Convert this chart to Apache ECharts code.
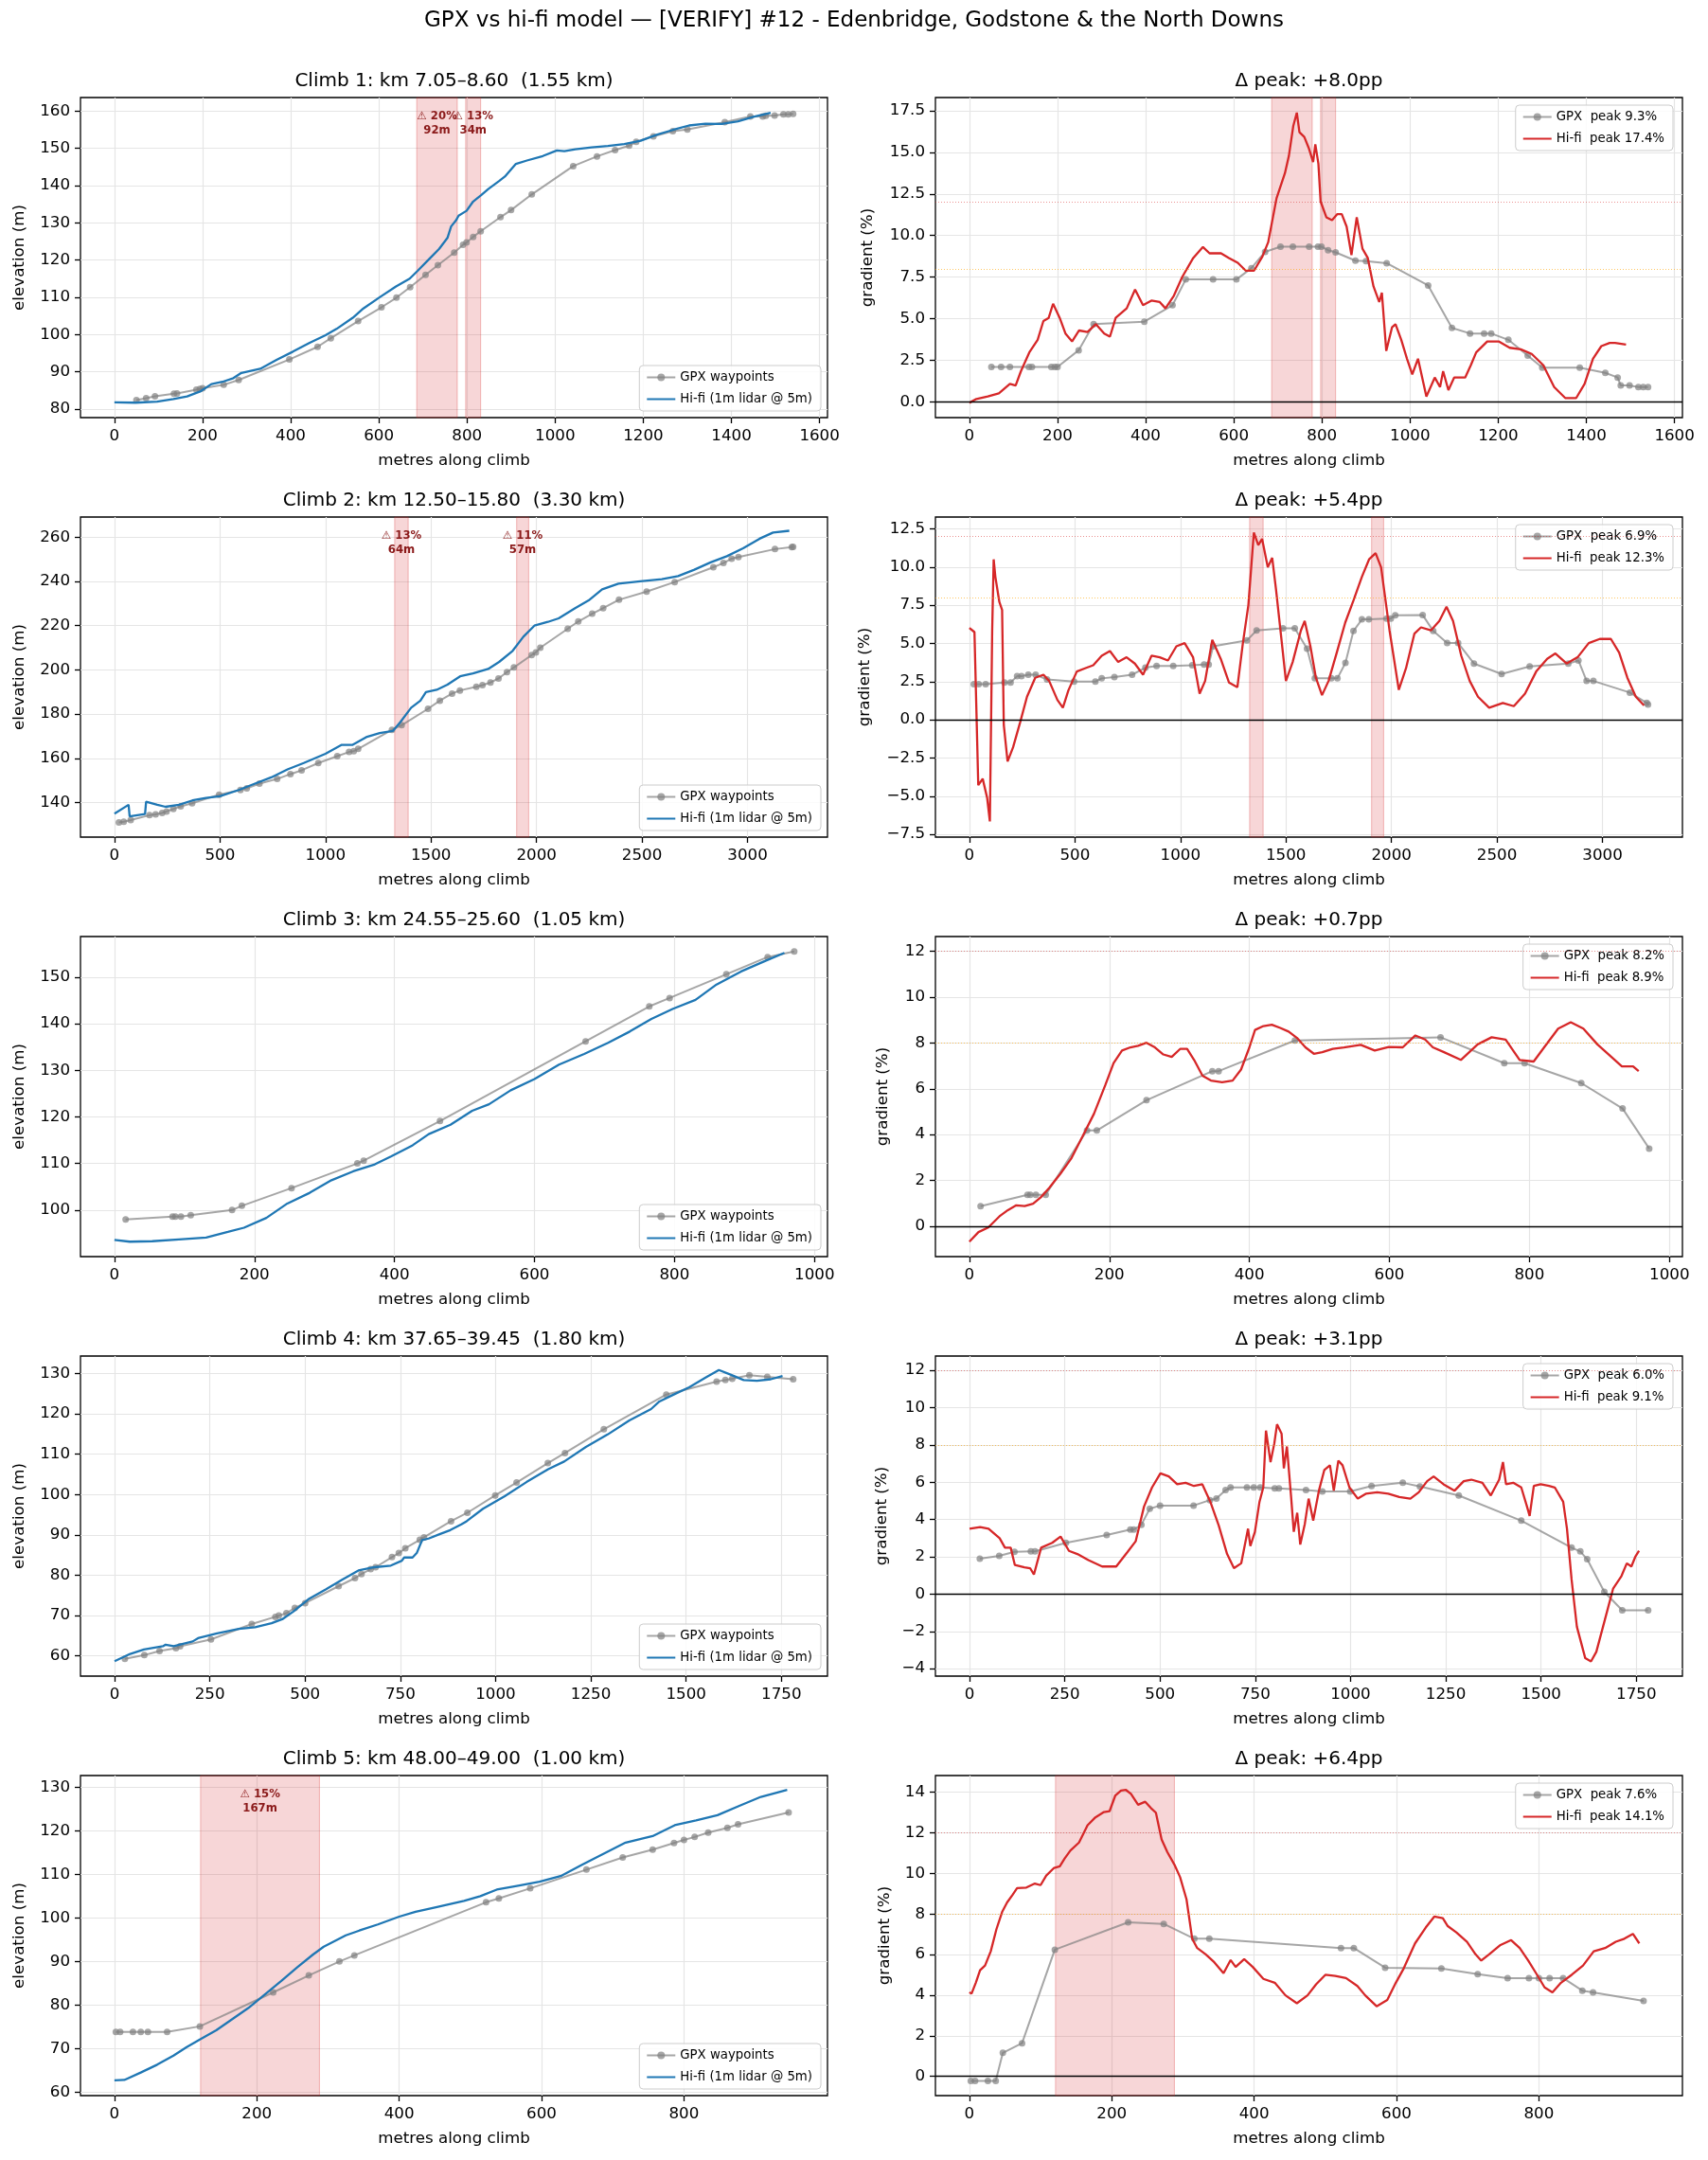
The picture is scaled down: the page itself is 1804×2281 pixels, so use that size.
<!DOCTYPE html>
<html><head><meta charset="utf-8">
<script src="https://cdn.jsdelivr.net/npm/echarts@6/dist/echarts.min.js"></script>
<style>html,body{margin:0;padding:0;background:#fff}#c{width:1804px;height:2281px}</style>
</head><body><div id="c"></div>
<script>
// ---------------- DATA ----------------
const SUPTITLE = 'GPX vs hi-fi model — [VERIFY] #12 - Edenbridge, Godstone & the North Downs';
const eleTitles = ['Climb 1: km 7.05–8.60  (1.55 km)','Climb 2: km 12.50–15.80  (3.30 km)','Climb 3: km 24.55–25.60  (1.05 km)','Climb 4: km 37.65–39.45  (1.80 km)','Climb 5: km 48.00–49.00  (1.00 km)'];
const gradTitles = ['Δ peak: +8.0pp','Δ peak: +5.4pp','Δ peak: +0.7pp','Δ peak: +3.1pp','Δ peak: +6.4pp'];
const gpxPeakNames = ['GPX  peak 9.3%','GPX  peak 6.9%','GPX  peak 8.2%','GPX  peak 6.0%','GPX  peak 7.6%'];
const hiPeakNames = ['Hi-fi  peak 17.4%','Hi-fi  peak 12.3%','Hi-fi  peak 8.9%','Hi-fi  peak 9.1%','Hi-fi  peak 14.1%'];
const eleLegend = ['GPX waypoints','Hi-fi (1m lidar @ 5m)'];

// axis ticks
const c1XTicks=[0,200,400,600,800,1000,1200,1400,1600];
const c2XTicks=[0,500,1000,1500,2000,2500,3000];
const c3XTicks=[0,200,400,600,800,1000];
const c4XTicks=[0,250,500,750,1000,1250,1500,1750];
const c5XTicks=[0,200,400,600,800];
const c1EleTicks=[80,90,100,110,120,130,140,150,160];
const c2EleTicks=[140,160,180,200,220,240,260];
const c3EleTicks=[100,110,120,130,140,150];
const c4EleTicks=[60,70,80,90,100,110,120,130];
const c5EleTicks=[60,70,80,90,100,110,120,130];
const c1GradTicks=[0,2.5,5,7.5,10,12.5,15,17.5];
const c2GradTicks=[-7.5,-5,-2.5,0,2.5,5,7.5,10,12.5];
const c3GradTicks=[0,2,4,6,8,10,12];
const c4GradTicks=[-4,-2,0,2,4,6,8,10,12];
const c5GradTicks=[0,2,4,6,8,10,12,14];

// axis limits
const xLims=[[-77,1618],[-161,3379],[-48.5,1018.5],[-89.5,1871],[-47.7,1001.6]];
const eleLims=[[77.7,163.6],[124.4,269.1],[90.0,158.7],[55.0,134.35],[59.2,132.7]];
const gradLims=[[-0.95,18.3],[-7.68,13.27],[-1.33,12.65],[-4.4,12.77],[-0.95,14.82]];
const gradThresholds=[8,12];

// steep sections (start m, end m) and their labels
const c1Spans=[[686,778],[797,831]]; const c1SpanLabels=['⚠ 20%\n92m','⚠ 13%\n34m'];
const c2Spans=[[1328,1392],[1906,1963]]; const c2SpanLabels=['⚠ 13%\n64m','⚠ 11%\n57m'];
const c3Spans=[]; const c3SpanLabels=[];
const c4Spans=[]; const c4SpanLabels=[];
const c5Spans=[[121,288]]; const c5SpanLabels=['⚠ 15%\n167m'];

// Climb 1
const c1GpxEle=[[50,82.4],[72,82.9],[92,83.4],[135,84.1],[142,84.2],[186,85.2],[194,85.4],[200,85.6],[248,86.5],[282,87.8],[397,93.3],[461,96.7],[491,99.0],[553,103.6],[606,107.3],[640,109.9],[671,112.7],[706,116.0],[734,118.6],[771,122.0],[791,124.1],[799,124.7],[814,126.2],[831,127.7],[876,131.5],[900,133.4],[947,137.6],[1041,145.2],[1095,147.8],[1136,149.5],[1168,150.7],[1184,151.7],[1223,153.2],[1267,154.6],[1300,155.0],[1385,157.0],[1443,158.5],[1471,158.5],[1478,158.7],[1498,158.8],[1518,159.1],[1529,159.1],[1540,159.2]];
const c1GpxGrad=[[50,2.1],[72,2.1],[92,2.1],[135,2.1],[142,2.1],[186,2.1],[194,2.1],[200,2.1],[248,3.1],[282,4.67],[397,4.82],[461,5.81],[491,7.36],[553,7.36],[606,7.36],[640,8.04],[671,9.02],[706,9.33],[734,9.33],[771,9.33],[791,9.33],[799,9.33],[814,9.12],[831,8.99],[876,8.49],[900,8.46],[947,8.34],[1041,7.0],[1095,4.45],[1136,4.11],[1168,4.11],[1184,4.11],[1223,3.73],[1267,2.78],[1300,2.06],[1385,2.06],[1443,1.74],[1471,1.46],[1478,0.98],[1498,0.98],[1518,0.89],[1529,0.89],[1540,0.89]];
const c1HiEle=[[0,81.8],[48,81.7],[97,82.0],[134,82.7],[165,83.4],[196,84.8],[220,86.7],[245,87.3],[270,88.3],[288,89.7],[331,90.8],[368,93.2],[405,95.4],[442,97.7],[479,99.8],[504,101.5],[541,104.5],[565,107.0],[602,110.0],[639,112.9],[670,115.0],[688,117.1],[713,120.1],[737,123.0],[756,126.0],[764,129.0],[775,130.6],[781,131.9],[799,133.2],[814,135.7],[832,137.4],[849,139.1],[873,141.2],[886,142.4],[911,145.8],[936,146.7],[972,147.9],[1004,149.4],[1021,149.2],[1046,149.7],[1083,150.2],[1120,150.6],[1157,151.1],[1194,152.0],[1230,153.6],[1267,154.9],[1304,156.1],[1341,156.6],[1378,156.5],[1415,157.2],[1452,158.5],[1489,159.5]];
const c1HiGrad=[[0,-0.06],[16,0.17],[42,0.32],[67,0.51],[92,1.08],[105,0.98],[117,1.84],[136,2.97],[155,3.73],[168,4.86],[180,5.05],[190,5.9],[205,5.05],[218,4.11],[233,3.63],[249,4.29],[268,4.2],[287,4.67],[306,4.11],[319,3.92],[332,5.05],[357,5.62],[376,6.75],[394,5.81],[413,6.09],[432,6.0],[445,5.62],[464,6.38],[483,7.51],[508,8.65],[530,9.31],[545,8.93],[571,8.93],[589,8.65],[609,8.36],[627,7.89],[646,7.89],[665,8.74],[678,9.59],[697,12.24],[716,13.75],[725,14.79],[735,16.59],[743,17.39],[749,16.21],[760,15.93],[770,15.27],[780,14.42],[785,15.49],[792,14.32],[797,12.05],[810,11.1],[823,10.92],[835,11.29],[845,11.29],[856,10.54],[867,8.83],[879,11.1],[892,9.21],[904,8.65],[917,6.94],[930,6.0],[936,6.56],[946,3.06],[959,4.48],[967,4.67],[980,3.73],[993,2.59],[1005,1.65],[1018,2.59],[1037,0.32],[1056,1.46],[1068,0.89],[1075,1.84],[1087,0.7],[1100,1.46],[1125,1.46],[1138,2.21],[1150,2.97],[1175,3.63],[1201,3.63],[1226,3.25],[1251,3.16],[1276,2.88],[1302,2.21],[1327,0.89],[1352,0.23],[1377,0.23],[1396,1.08],[1415,2.59],[1434,3.35],[1453,3.54],[1465,3.54],[1490,3.44]];

// Climb 2
const c2GpxEle=[[21,131.0],[44,131.4],[77,132.1],[166,134.3],[195,134.7],[226,135.3],[247,136.0],[279,137.1],[314,138.3],[368,139.7],[496,143.6],[597,145.7],[627,146.4],[687,148.6],[771,150.7],[834,152.9],[887,154.6],[966,157.9],[1056,161.0],[1112,162.9],[1134,163.3],[1155,164.3],[1315,172.9],[1361,175.0],[1486,182.4],[1542,186.1],[1600,189.3],[1637,190.7],[1715,192.4],[1744,193.1],[1782,194.3],[1820,196.1],[1860,199.0],[1893,201.1],[1977,206.7],[1997,207.9],[2018,210.0],[2148,218.6],[2198,221.9],[2264,225.4],[2316,227.9],[2391,231.7],[2522,235.4],[2655,239.7],[2838,246.4],[2886,248.3],[2925,250.3],[2957,251.0],[3130,254.6],[3210,255.5],[3216,255.6]];
const c2GpxGrad=[[21,2.33],[44,2.33],[77,2.33],[166,2.44],[195,2.44],[226,2.85],[247,2.85],[279,2.95],[314,2.95],[368,2.64],[496,2.5],[597,2.5],[627,2.71],[687,2.79],[771,2.95],[834,3.41],[887,3.53],[966,3.53],[1056,3.57],[1112,3.62],[1134,3.62],[1155,4.81],[1315,5.19],[1361,5.85],[1486,5.99],[1542,5.99],[1600,4.65],[1637,2.71],[1715,2.71],[1744,2.71],[1782,3.72],[1820,5.81],[1860,6.57],[1893,6.57],[1977,6.63],[1997,6.63],[2018,6.84],[2148,6.86],[2198,5.81],[2264,5.02],[2316,5.02],[2391,3.68],[2522,3.0],[2655,3.49],[2838,3.68],[2886,3.88],[2925,2.54],[2957,2.54],[3130,1.78],[3210,1.1],[3216,1.0]];
const c2HiEle=[[0,135.0],[67,139.0],[72,133.8],[130,134.6],[145,134.8],[150,140.4],[203,139.0],[242,138.1],[306,139.0],[370,141.0],[434,142.1],[499,142.9],[589,145.7],[666,148.6],[743,151.4],[820,155.0],[897,157.9],[1000,162.1],[1077,166.1],[1129,166.1],[1193,169.6],[1257,171.4],[1319,172.4],[1355,176.4],[1406,182.9],[1450,186.1],[1476,190.0],[1527,191.0],[1578,193.3],[1638,197.1],[1699,198.4],[1771,200.4],[1823,203.6],[1887,208.6],[1938,215.0],[1990,220.0],[2054,221.7],[2105,223.3],[2183,227.9],[2247,231.4],[2311,236.4],[2388,239.0],[2491,240.0],[2594,241.0],[2671,242.4],[2748,245.3],[2825,248.6],[2902,251.4],[2979,255.0],[3057,259.3],[3121,262.1],[3198,262.9]];
const c2HiGrad=[[0,6.01],[24,5.74],[31,5.85],[42,-4.28],[63,-3.86],[84,-5.1],[97,-6.65],[108,5.85],[115,10.5],[123,9.36],[142,7.71],[155,7.19],[163,-0.35],[181,-2.73],[207,-1.8],[241,-0.14],[273,1.51],[312,2.75],[351,2.95],[378,2.54],[417,1.3],[443,0.79],[469,1.92],[509,3.16],[548,3.37],[587,3.57],[627,4.19],[666,4.5],[705,3.78],[745,4.09],[784,3.68],[823,2.95],[863,4.19],[902,4.09],[941,3.88],[981,4.81],[1020,5.02],[1060,4.09],[1091,1.71],[1117,2.54],[1151,5.23],[1191,3.99],[1230,2.44],[1270,2.13],[1296,5.02],[1322,7.5],[1348,12.25],[1369,11.43],[1387,11.84],[1414,9.98],[1435,10.6],[1453,8.53],[1479,5.23],[1500,2.54],[1532,3.78],[1571,5.85],[1589,6.47],[1616,4.81],[1642,2.75],[1671,1.61],[1702,2.54],[1741,4.4],[1781,6.36],[1820,7.81],[1860,9.36],[1894,10.5],[1925,10.91],[1951,9.98],[1991,5.85],[2035,1.96],[2069,3.37],[2109,5.64],[2140,6.05],[2187,5.85],[2227,6.47],[2261,7.4],[2292,6.47],[2331,4.19],[2371,2.54],[2410,1.51],[2463,0.79],[2528,1.1],[2580,0.89],[2633,1.71],[2686,3.16],[2738,3.99],[2777,4.34],[2830,3.68],[2882,4.09],[2935,5.02],[2987,5.29],[3040,5.29],[3079,4.4],[3118,2.75],[3158,1.51],[3197,0.93]];

// Climb 3
const c3GpxEle=[[16,98.0],[83,98.6],[87,98.6],[95,98.6],[109,98.9],[168,100.0],[182,100.9],[253,104.7],[347,110.0],[356,110.6],[465,119.1],[673,136.2],[764,143.7],[793,145.5],[874,150.6],[933,154.3],[971,155.5]];
const c3GpxGrad=[[16,0.87],[83,1.37],[87,1.37],[95,1.37],[109,1.37],[168,4.18],[182,4.18],[253,5.5],[347,6.77],[356,6.77],[465,8.11],[673,8.25],[764,7.12],[793,7.12],[874,6.25],[933,5.14],[971,3.39]];
const c3HiEle=[[0,93.6],[22,93.2],[54,93.3],[92,93.7],[131,94.1],[162,95.3],[185,96.2],[217,98.3],[247,101.4],[279,103.7],[310,106.4],[341,108.3],[372,109.8],[395,111.5],[426,113.9],[449,116.3],[480,118.3],[511,121.3],[535,122.7],[566,125.7],[600,128.1],[635,131.2],[671,133.5],[705,135.9],[736,138.3],[767,141.0],[798,143.2],[830,145.1],[860,148.4],[895,151.2],[930,153.5],[957,155.2]];
const c3HiGrad=[[0,-0.68],[13,-0.26],[27,-0.06],[43,0.43],[55,0.7],[67,0.91],[79,0.88],[91,0.98],[102,1.26],[114,1.67],[130,2.29],[146,2.98],[162,3.94],[178,4.91],[194,6.15],[206,7.12],[218,7.67],[230,7.81],[241,7.88],[253,8.01],[265,7.81],[277,7.5],[289,7.39],[301,7.74],[311,7.74],[321,7.26],[333,6.57],[345,6.36],[361,6.29],[376,6.36],[388,6.84],[400,7.81],[408,8.57],[420,8.74],[432,8.8],[444,8.66],[456,8.5],[468,8.22],[480,7.81],[492,7.53],[504,7.6],[519,7.74],[535,7.81],[559,7.92],[579,7.67],[599,7.83],[619,7.81],[637,8.33],[651,8.15],[662,7.81],[678,7.6],[702,7.26],[726,7.94],[746,8.25],[766,8.15],[786,7.26],[806,7.19],[821,7.81],[841,8.63],[859,8.91],[877,8.63],[897,7.94],[917,7.39],[932,6.98],[948,6.98],[956,6.77]];

// Climb 4
const c4GpxEle=[[27,59.3],[78,60.2],[118,61.2],[161,61.9],[172,62.4],[253,64.1],[360,67.9],[422,69.7],[431,70.0],[451,70.6],[473,71.9],[500,73.1],[588,77.3],[631,79.3],[648,80.3],[672,81.5],[685,82.0],[728,84.5],[746,85.5],[763,86.7],[801,88.8],[812,89.4],[883,93.4],[926,95.5],[999,99.8],[1055,103.0],[1137,107.8],[1182,110.3],[1284,116.2],[1448,124.8],[1580,128.0],[1603,128.4],[1621,128.7],[1666,129.6],[1713,129.2],[1781,128.6]];
const c4GpxGrad=[[27,1.9],[78,2.05],[118,2.27],[161,2.29],[172,2.29],[253,2.75],[360,3.17],[422,3.46],[431,3.46],[451,3.72],[473,4.58],[500,4.75],[588,4.75],[631,5.04],[648,5.12],[672,5.58],[685,5.72],[728,5.72],[746,5.72],[763,5.72],[801,5.67],[812,5.67],[883,5.58],[926,5.51],[999,5.51],[1055,5.8],[1137,5.97],[1182,5.77],[1284,5.29],[1448,3.94],[1580,2.49],[1603,2.29],[1621,1.87],[1666,0.12],[1713,-0.87],[1781,-0.87]];
const c4HiEle=[[0,58.7],[41,60.5],[77,61.6],[127,62.4],[134,62.8],[155,62.4],[205,63.6],[219,64.4],[269,65.6],[326,66.7],[369,67.1],[412,68.1],[440,69.1],[469,71.0],[511,74.2],[554,76.5],[597,78.9],[640,81.2],[682,82.0],[725,82.4],[754,83.6],[760,84.4],[782,84.4],[793,85.5],[807,88.7],[824,89.1],[853,90.2],[881,91.2],[910,92.6],[924,93.4],[967,96.5],[1024,99.6],[1081,103.1],[1138,106.3],[1180,108.2],[1237,111.8],[1294,114.9],[1351,118.4],[1408,121.2],[1430,123.1],[1465,124.7],[1508,126.6],[1551,129.0],[1586,130.9],[1615,129.8],[1651,128.4],[1686,128.2],[1722,128.6],[1753,129.4]];
const c4HiGrad=[[0,3.51],[28,3.6],[50,3.51],[79,3.0],[93,2.49],[108,2.49],[119,1.56],[144,1.44],[159,1.39],[169,1.05],[188,2.49],[217,2.75],[239,3.09],[261,2.32],[283,2.15],[312,1.82],[348,1.48],[385,1.48],[414,2.24],[436,2.83],[458,4.7],[479,5.72],[501,6.48],[523,6.31],[545,5.89],[567,5.97],[589,5.8],[611,5.89],[632,4.95],[654,3.68],[676,2.15],[694,1.39],[713,1.65],[731,3.51],[737,2.58],[749,3.34],[761,4.95],[771,5.72],[778,8.77],[790,7.08],[800,8.09],[807,9.11],[819,8.6],[825,6.74],[833,7.92],[844,5.21],[851,3.34],[860,4.36],[868,2.66],[880,3.77],[890,5.12],[902,3.94],[917,5.55],[931,6.65],[946,6.91],[956,5.55],[968,7.16],[979,6.91],[997,5.72],[1019,5.12],[1040,5.38],[1070,5.46],[1099,5.38],[1128,5.21],[1157,5.12],[1179,5.46],[1201,6.06],[1218,6.31],[1244,5.89],[1273,5.55],[1297,6.06],[1317,6.14],[1346,5.97],[1368,5.29],[1390,6.14],[1400,7.08],[1408,5.89],[1427,5.97],[1448,5.72],[1463,4.7],[1470,4.19],[1481,5.8],[1499,5.89],[1521,5.8],[1536,5.72],[1558,4.95],[1568,3.51],[1580,0.8],[1594,-1.75],[1616,-3.44],[1631,-3.61],[1645,-3.1],[1667,-1.41],[1689,0.29],[1711,0.97],[1725,1.65],[1737,1.48],[1747,1.99],[1757,2.32]];

// Climb 5
const c5GpxEle=[[2,73.8],[8,73.8],[26,73.8],[37,73.8],[47,73.8],[74,73.8],[120,75.1],[223,82.9],[273,86.8],[316,90.0],[337,91.4],[522,103.6],[540,104.5],[584,106.8],[663,111.1],[714,113.9],[756,115.7],[786,117.2],[800,117.9],[815,118.6],[834,119.6],[861,120.7],[876,121.5],[947,124.2]];
const c5GpxGrad=[[2,-0.23],[8,-0.23],[26,-0.23],[37,-0.23],[47,1.16],[74,1.63],[120,6.24],[223,7.59],[273,7.51],[316,6.78],[337,6.78],[522,6.32],[540,6.32],[584,5.35],[663,5.31],[714,5.03],[756,4.84],[786,4.84],[800,4.84],[815,4.84],[834,4.84],[861,4.22],[876,4.14],[947,3.72]];
const c5HiEle=[[0,62.7],[14,62.8],[37,64.5],[60,66.3],[83,68.4],[101,70.3],[120,72.1],[143,74.2],[166,76.8],[188,79.3],[211,82.4],[234,85.5],[257,88.7],[279,91.6],[294,93.4],[325,96.0],[344,97.1],[370,98.5],[400,100.3],[423,101.4],[453,102.5],[491,103.9],[514,105.0],[537,106.5],[567,107.4],[597,108.3],[628,109.7],[658,112.3],[688,114.8],[718,117.3],[756,118.8],[787,121.3],[817,122.4],[847,123.6],[877,125.7],[908,127.8],[945,129.4]];
const c5HiGrad=[[0,4.14],[3,4.07],[9,4.61],[15,5.23],[22,5.46],[30,6.16],[38,7.25],[46,8.1],[53,8.57],[61,8.96],[67,9.27],[80,9.3],[92,9.5],[100,9.42],[108,9.89],[119,10.27],[127,10.35],[134,10.74],[142,11.13],[154,11.52],[166,12.37],[177,12.76],[189,13.02],[197,13.07],[205,13.84],[213,14.08],[220,14.11],[227,13.92],[237,13.38],[247,13.53],[255,13.22],[262,12.99],[270,11.67],[278,11.05],[288,10.43],[296,9.81],[305,8.72],[313,6.78],[320,6.32],[332,6.01],[344,5.62],[357,5.08],[367,5.73],[374,5.39],[386,5.77],[398,5.39],[413,4.8],[429,4.61],[444,3.99],[460,3.6],[475,3.99],[487,4.53],[500,5.0],[514,4.95],[529,4.84],[545,4.45],[556,3.99],[572,3.45],[587,3.76],[599,4.61],[610,5.31],[626,6.55],[641,7.33],[653,7.87],[665,7.79],[672,7.4],[684,7.09],[699,6.63],[711,6.01],[719,5.7],[730,6.01],[746,6.47],[761,6.71],[773,6.32],[785,5.7],[796,5.08],[808,4.38],[819,4.14],[831,4.61],[846,5.0],[862,5.46],[877,6.16],[893,6.32],[908,6.63],[920,6.78],[932,7.02],[941,6.55]];

// ---------------- BUILD ----------------
const FF = "'DejaVu Sans', 'Liberation Sans', sans-serif";
const colLeft=[85,988], colW=789;
const rowTop=[103,546,989,1432,1875], rowH=338;
const GRAY='rgba(128,128,128,0.7)';
const BLUE='#1f77b4', RED='#d62728';

const climbs=[
 {xt:c1XTicks, et:c1EleTicks, gt:c1GradTicks, gdec:1, gGap:63, gpxE:c1GpxEle, gpxG:c1GpxGrad, hiE:c1HiEle, hiG:c1HiGrad, spans:c1Spans, spanL:c1SpanLabels},
 {xt:c2XTicks, et:c2EleTicks, gt:c2GradTicks, gdec:1, gGap:66, gpxE:c2GpxEle, gpxG:c2GpxGrad, hiE:c2HiEle, hiG:c2HiGrad, spans:c2Spans, spanL:c2SpanLabels},
 {xt:c3XTicks, et:c3EleTicks, gt:c3GradTicks, gdec:0, gGap:47, gpxE:c3GpxEle, gpxG:c3GpxGrad, hiE:c3HiEle, hiG:c3HiGrad, spans:c3Spans, spanL:c3SpanLabels},
 {xt:c4XTicks, et:c4EleTicks, gt:c4GradTicks, gdec:0, gGap:48, gpxE:c4GpxEle, gpxG:c4GpxGrad, hiE:c4HiEle, hiG:c4HiGrad, spans:c4Spans, spanL:c4SpanLabels},
 {xt:c5XTicks, et:c5EleTicks, gt:c5GradTicks, gdec:0, gGap:45, gpxE:c5GpxEle, gpxG:c5GpxGrad, hiE:c5HiEle, hiG:c5HiGrad, spans:c5Spans, spanL:c5SpanLabels}
];

function fmt(dec){ return v => (dec ? Number(v).toFixed(dec) : String(Math.round(v))).replace('-', '\u2212'); }
function axis(pos, gi, lim, ticks, dec, name, nameGap){
  return {type:'value', position:pos, gridIndex:gi, min:lim[0], max:lim[1], scale:true,
    axisLine:{show:false, onZero:false},
    axisTick:{show:true, inside:false, length:6, lineStyle:{color:'#000', width:1.3}, customValues:ticks},
    axisLabel:{show:true, customValues:ticks, formatter:fmt(dec), margin:11, fontSize:16.7, fontFamily:FF, color:'#000'},
    splitLine:{show:true, lineStyle:{color:'#e5e5e5', width:1.2}},
    name:name, nameLocation:'middle', nameGap:nameGap, nameTextStyle:{fontSize:16.7, fontFamily:FF, color:'#000'}
  };
}

const grids=[], xAxes=[], yAxes=[], series=[], titles=[], legends=[];
titles.push({text:SUPTITLE, left:902, top:11, textAlign:'center', padding:0, textStyle:{fontSize:23, fontWeight:'normal', fontFamily:FF, color:'#000'}});

climbs.forEach((p,i)=>{
  for (let c=0;c<2;c++){
    const gi=grids.length, left=colLeft[c], top=rowTop[i];
    grids.push({left:left, top:top, width:colW, height:rowH, show:true, borderColor:'#000', borderWidth:1.3, backgroundColor:'rgba(0,0,0,0)'});
    xAxes.push(axis('bottom', gi, xLims[i], p.xt, 0, 'metres along climb', 37));
    if (c===0) yAxes.push(axis('left', gi, eleLims[i], p.et, 0, 'elevation (m)', 56));
    else yAxes.push(axis('left', gi, gradLims[i], p.gt, p.gdec, 'gradient (%)', p.gGap));
    titles.push({text: c===0?eleTitles[i]:gradTitles[i], left:left+colW/2, top:top-27, textAlign:'center', padding:0,
      textStyle:{fontSize:20, fontWeight:'normal', fontFamily:FF, color:'#000'}});

    const deco={type:'line', xAxisIndex:gi, yAxisIndex:gi, data:[], silent:true, z:1, animation:false,
      markArea:{silent:true, animation:false,
        itemStyle:{color:'rgba(214,39,40,0.19)', borderColor:'rgba(214,39,40,0.3)', borderWidth:1},
        label:{show:c===0, position:'insideTop', distance:13, color:'#8b1a1a', fontWeight:'bold', fontSize:11.7, lineHeight:15, fontFamily:FF, align:'center'},
        data:p.spans.map((s,k)=>[{xAxis:s[0], name:c===0?p.spanL[k]:''},{xAxis:s[1]}])}
    };
    if (c===1){
      deco.markLine={silent:true, animation:false, symbol:['none','none'], label:{show:false},
        data:[{yAxis:gradThresholds[0], lineStyle:{color:'rgba(255,165,0,0.6)', width:1, type:[1,2]}},
              {yAxis:gradThresholds[1], lineStyle:{color:'rgba(214,39,40,0.5)', width:1, type:[1,2]}},
              {yAxis:0, lineStyle:{color:'#000', width:1.3, type:'solid'}}]};
    }
    series.push(deco);
    const gpxName = c===0?eleLegend[0]:gpxPeakNames[i];
    const hiName = c===0?eleLegend[1]:hiPeakNames[i];
    series.push({type:'line', name:gpxName, xAxisIndex:gi, yAxisIndex:gi, data:c===0?p.gpxE:p.gpxG,
      symbol:'circle', symbolSize:7, showSymbol:true, showAllSymbol:true, silent:true, z:3, animation:false,
      lineStyle:{color:GRAY, width:2}, itemStyle:{color:GRAY, borderWidth:0}});
    series.push({type:'line', name:hiName, xAxisIndex:gi, yAxisIndex:gi, data:c===0?p.hiE:p.hiG,
      symbol:'none', showSymbol:false, silent:true, z:4, animation:false,
      lineStyle:{color:c===0?BLUE:RED, width:2.3}, itemStyle:{color:c===0?BLUE:RED}});
    const lg={data:[{name:gpxName}, {name:hiName, itemStyle:{color:'rgba(0,0,0,0)', borderWidth:0, opacity:0}}],
      orient:'vertical', itemWidth:30, itemHeight:10, itemGap:10,
      padding:[6,9,6,7], backgroundColor:'rgba(255,255,255,0.85)', borderColor:'#cccccc', borderWidth:1, borderRadius:4,
      selectedMode:false, textStyle:{fontSize:13.3, fontFamily:FF, color:'#000'}};
    if (c===0){ lg.right = 1804-(left+colW-7); lg.bottom = 2281-(top+rowH-7); }
    else { lg.right = 1804-(left+colW-10); lg.top = top+8; }
    legends.push(lg);
  }
});

const chart=echarts.init(document.getElementById('c'), null, {renderer:'canvas', width:1804, height:2281});
chart.setOption({backgroundColor:'#fff', animation:false, title:titles, legend:legends, grid:grids, xAxis:xAxes, yAxis:yAxes, series:series});
</script></body></html>
